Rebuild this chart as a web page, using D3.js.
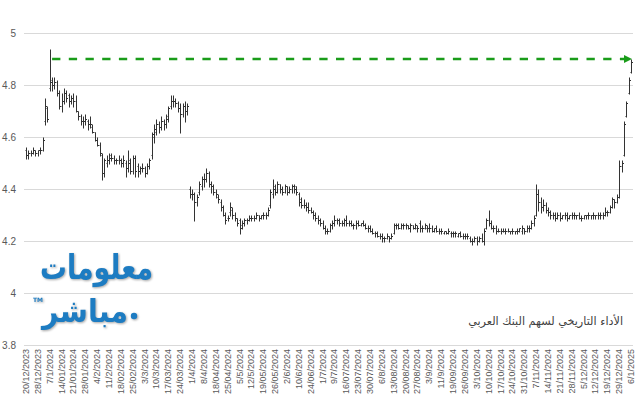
<!DOCTYPE html>
<html lang="ar">
<head>
<meta charset="UTF-8">
<title>Arab Bank share price</title>
<style>
body { margin: 0; background: #fff; }
.grid line { stroke: #d9d9d9; stroke-width: 1px; }
.ytick { font: 10px "Liberation Sans", sans-serif; fill: #595959; }
.xtick { font: 9px "Liberation Sans", sans-serif; fill: #595959; }
.ohlc { stroke: #333; stroke-width: 1px; fill: none; }
</style>
</head>
<body>
<script src="https://cdnjs.cloudflare.com/ajax/libs/d3/7.8.5/d3.min.js"></script>
<script>
// tick labels, one every 5 trading days
var tickLabels = ["20/12/2023","28/12/2023","7/1/2024","14/01/2024","21/01/2024","28/01/2024","4/2/2024",
  "11/2/2024","18/02/2024","25/02/2024","3/3/2024","10/3/2024","17/03/2024","24/03/2024","1/4/2024",
  "8/4/2024","18/04/2024","25/04/2024","5/5/2024","12/5/2024","19/05/2024","26/05/2024","2/6/2024",
  "10/6/2024","24/06/2024","1/7/2024","9/7/2024","16/07/2024","23/07/2024","30/07/2024","6/8/2024",
  "13/08/2024","20/08/2024","27/08/2024","3/9/2024","11/9/2024","19/09/2024","26/09/2024","3/10/2024",
  "10/10/2024","17/10/2024","24/10/2024","31/10/2024","7/11/2024","14/11/2024","21/11/2024",
  "28/11/2024","5/12/2024","12/12/2024","19/12/2024","29/12/2024","6/1/2025"];

var high = [
4.56,4.55,4.55,4.56,4.55,4.55,4.56,4.60,4.75,4.72, 4.94,4.83,4.83,4.82,4.78,4.77,4.79,4.78,4.77,4.76,
4.77,4.76,4.70,4.69,4.68,4.69,4.67,4.68,4.65,4.62, 4.60,4.58,4.54,4.52,4.53,4.54,4.54,4.53,4.52,4.53,
4.52,4.53,4.51,4.55,4.52,4.53,4.53,4.50,4.49,4.50, 4.49,4.50,4.52,4.62,4.65,4.67,4.66,4.68,4.67,4.69,
4.72,4.76,4.76,4.75,4.74,4.73,4.73,4.74,4.73,4.41, 4.40,4.39,4.38,4.43,4.45,4.46,4.48,4.47,4.43,4.42,
4.40,4.38,4.36,4.34,4.31,4.30,4.35,4.33,4.31,4.29, 4.29,4.28,4.29,4.29,4.30,4.30,4.30,4.31,4.30,4.30,
4.31,4.31,4.33,4.40,4.44,4.42,4.43,4.42,4.41,4.42, 4.41,4.41,4.42,4.42,4.41,4.39,4.37,4.36,4.35,4.35,
4.33,4.32,4.31,4.30,4.29,4.28,4.26,4.25,4.27,4.28, 4.30,4.29,4.29,4.28,4.29,4.30,4.28,4.28,4.27,4.28,
4.28,4.27,4.28,4.27,4.26,4.26,4.25,4.24,4.24,4.23, 4.23,4.22,4.23,4.22,4.23,4.27,4.27,4.27,4.27,4.27,
4.27,4.26,4.27,4.26,4.27,4.26,4.28,4.26,4.27,4.26, 4.27,4.26,4.25,4.26,4.25,4.25,4.24,4.24,4.25,4.24,
4.24,4.24,4.23,4.24,4.23,4.23,4.23,4.22,4.21,4.22, 4.22,4.22,4.23,4.25,4.29,4.32,4.28,4.26,4.26,4.25,
4.25,4.25,4.25,4.25,4.24,4.25,4.24,4.25,4.25,4.26, 4.25,4.26,4.26,4.28,4.30,4.42,4.40,4.37,4.36,4.35,
4.33,4.32,4.31,4.31,4.31,4.31,4.30,4.31,4.31,4.30, 4.31,4.31,4.30,4.31,4.30,4.30,4.30,4.31,4.30,4.31,
4.30,4.31,4.31,4.31,4.33,4.32,4.34,4.37,4.36,4.38, 4.51,4.51,4.66,4.74,4.83,4.90];

var low = [
4.52,4.52,4.53,4.54,4.53,4.53,4.54,4.55,4.65,4.66, 4.78,4.78,4.79,4.76,4.71,4.70,4.73,4.74,4.72,4.73,
4.72,4.70,4.67,4.65,4.64,4.65,4.63,4.64,4.62,4.59, 4.57,4.53,4.44,4.45,4.49,4.50,4.51,4.50,4.50,4.50,
4.49,4.49,4.45,4.47,4.46,4.46,4.45,4.45,4.46,4.47, 4.45,4.46,4.48,4.52,4.58,4.61,4.62,4.63,4.63,4.64,
4.66,4.71,4.72,4.72,4.70,4.62,4.68,4.66,4.69,4.37, 4.36,4.28,4.34,4.38,4.40,4.41,4.43,4.41,4.39,4.38,
4.37,4.35,4.32,4.30,4.27,4.28,4.30,4.29,4.28,4.26, 4.23,4.25,4.26,4.27,4.28,4.28,4.28,4.29,4.28,4.29,
4.29,4.29,4.30,4.33,4.37,4.38,4.39,4.39,4.38,4.39, 4.38,4.39,4.39,4.39,4.38,4.34,4.33,4.33,4.32,4.31,
4.31,4.29,4.28,4.27,4.26,4.25,4.23,4.23,4.24,4.25, 4.26,4.27,4.26,4.26,4.26,4.26,4.26,4.26,4.25,4.25,
4.26,4.26,4.26,4.25,4.24,4.24,4.23,4.22,4.22,4.21, 4.20,4.20,4.21,4.20,4.21,4.23,4.25,4.25,4.25,4.25,
4.25,4.25,4.24,4.25,4.25,4.24,4.24,4.24,4.25,4.24, 4.24,4.24,4.24,4.24,4.23,4.23,4.23,4.23,4.23,4.22,
4.22,4.22,4.22,4.22,4.21,4.21,4.21,4.20,4.19,4.20, 4.19,4.20,4.20,4.19,4.25,4.26,4.25,4.24,4.23,4.24,
4.23,4.24,4.23,4.24,4.23,4.23,4.23,4.23,4.24,4.23, 4.23,4.24,4.24,4.25,4.26,4.30,4.32,4.31,4.32,4.31,
4.30,4.29,4.29,4.28,4.29,4.28,4.29,4.29,4.28,4.29, 4.29,4.29,4.29,4.29,4.28,4.29,4.29,4.29,4.29,4.29,
4.29,4.29,4.29,4.29,4.30,4.30,4.31,4.33,4.33,4.35, 4.37,4.47,4.53,4.68,4.77,4.85];

var open = [
4.55,4.53,4.54,4.54,4.55,4.54,4.55,4.55,4.66,4.71, 4.79,4.82,4.80,4.81,4.77,4.72,4.74,4.77,4.76,4.74,
4.75,4.74,4.70,4.68,4.66,4.66,4.66,4.65,4.64,4.62, 4.59,4.57,4.53,4.46,4.50,4.51,4.53,4.52,4.51,4.51,
4.51,4.50,4.50,4.48,4.51,4.47,4.52,4.49,4.47,4.48, 4.48,4.46,4.49,4.53,4.60,4.62,4.65,4.64,4.66,4.65,
4.68,4.72,4.74,4.74,4.73,4.71,4.69,4.72,4.70,4.40, 4.38,4.38,4.35,4.39,4.41,4.44,4.44,4.46,4.42,4.41,
4.39,4.37,4.35,4.33,4.30,4.29,4.31,4.32,4.30,4.29, 4.28,4.26,4.27,4.28,4.28,4.29,4.29,4.29,4.30,4.29,
4.30,4.30,4.30,4.34,4.38,4.41,4.39,4.42,4.40,4.39, 4.41,4.39,4.40,4.41,4.41,4.38,4.36,4.34,4.34,4.33,
4.32,4.31,4.30,4.29,4.28,4.27,4.25,4.24,4.24,4.26, 4.27,4.28,4.28,4.27,4.27,4.28,4.27,4.27,4.26,4.26,
4.27,4.26,4.27,4.26,4.25,4.25,4.24,4.23,4.23,4.22, 4.22,4.21,4.21,4.22,4.21,4.23,4.26,4.26,4.25,4.26,
4.26,4.26,4.25,4.26,4.25,4.25,4.27,4.25,4.25,4.25, 4.25,4.25,4.24,4.25,4.24,4.24,4.23,4.24,4.23,4.23,
4.23,4.23,4.22,4.23,4.22,4.22,4.22,4.21,4.20,4.20, 4.21,4.20,4.21,4.20,4.25,4.28,4.27,4.25,4.25,4.24,
4.24,4.24,4.24,4.24,4.24,4.24,4.24,4.24,4.24,4.24, 4.25,4.24,4.25,4.25,4.27,4.30,4.38,4.35,4.33,4.34,
4.32,4.31,4.30,4.30,4.29,4.30,4.29,4.30,4.30,4.29, 4.30,4.30,4.30,4.30,4.29,4.29,4.30,4.30,4.30,4.30,
4.30,4.30,4.30,4.30,4.30,4.31,4.31,4.33,4.36,4.35, 4.37,4.49,4.53,4.68,4.77,4.85];

var close = [
4.53,4.54,4.54,4.55,4.54,4.55,4.55,4.59,4.72,4.67, 4.81,4.80,4.81,4.77,4.72,4.74,4.77,4.75,4.74,4.75,
4.74,4.70,4.68,4.66,4.66,4.67,4.65,4.65,4.62,4.59, 4.57,4.54,4.46,4.51,4.51,4.52,4.52,4.51,4.51,4.51,
4.50,4.51,4.48,4.50,4.47,4.52,4.47,4.47,4.48,4.48, 4.46,4.49,4.51,4.61,4.63,4.65,4.64,4.66,4.65,4.67,
4.71,4.74,4.74,4.73,4.71,4.69,4.72,4.70,4.72,4.38, 4.38,4.35,4.37,4.42,4.44,4.44,4.46,4.42,4.41,4.39,
4.38,4.36,4.33,4.30,4.28,4.29,4.33,4.30,4.29,4.27, 4.25,4.27,4.28,4.28,4.29,4.29,4.29,4.30,4.29,4.30,
4.30,4.30,4.32,4.39,4.40,4.39,4.42,4.40,4.39,4.41, 4.39,4.40,4.41,4.40,4.39,4.35,4.34,4.34,4.33,4.32,
4.31,4.30,4.29,4.28,4.27,4.25,4.24,4.24,4.26,4.27, 4.28,4.28,4.27,4.27,4.28,4.27,4.27,4.26,4.26,4.27,
4.26,4.27,4.26,4.25,4.25,4.24,4.23,4.23,4.22,4.22, 4.21,4.21,4.22,4.21,4.22,4.26,4.26,4.25,4.26,4.26,
4.26,4.25,4.26,4.25,4.26,4.25,4.25,4.25,4.26,4.25, 4.25,4.24,4.25,4.24,4.24,4.24,4.24,4.23,4.24,4.23,
4.23,4.23,4.23,4.22,4.22,4.22,4.22,4.20,4.20,4.21, 4.20,4.21,4.20,4.24,4.28,4.27,4.25,4.25,4.24,4.24,
4.24,4.24,4.24,4.24,4.24,4.24,4.24,4.24,4.25,4.25, 4.24,4.25,4.25,4.27,4.29,4.38,4.35,4.33,4.34,4.32,
4.31,4.30,4.30,4.29,4.30,4.29,4.30,4.30,4.29,4.30, 4.30,4.30,4.30,4.29,4.29,4.30,4.30,4.30,4.30,4.30,
4.30,4.30,4.30,4.30,4.31,4.31,4.33,4.36,4.35,4.37, 4.49,4.50,4.65,4.73,4.82,4.89];

var yTicks = [3.8, 4, 4.2, 4.4, 4.6, 4.8, 5];
var arrowFrom = 11, arrowTo = 255, arrowLevel = 4.90;
var title = "الأداء التاريخي لسهم البنك العربي";

var width = 640, height = 400;
var svg = d3.select("body").append("svg")
  .attr("width", width).attr("height", height);

var idx = d3.range(high.length);
var x = d3.scalePoint().domain(idx).range([26, 631]);
var y = d3.scaleLinear().domain([3.8, 5]).range([345, 33]);
var px = i => Math.round(x(i)) + 0.5;
var py = v => Math.round(y(v)) + 0.5;

// gridlines
svg.append("g").attr("class", "grid")
  .selectAll("line").data(yTicks).join("line")
  .attr("x1", 24).attr("x2", 633)
  .attr("y1", d => py(d)).attr("y2", d => py(d));

// y labels
svg.append("g").selectAll("text").data(yTicks).join("text")
  .attr("class", "ytick")
  .attr("x", 16).attr("y", d => y(d)).attr("dy", "0.35em")
  .attr("text-anchor", "end")
  .text(d => d3.format("~g")(d));

// x labels, every 5th bar
svg.append("g").selectAll("text").data(tickLabels).join("text")
  .attr("class", "xtick")
  .attr("text-anchor", "end")
  .attr("transform", (d, k) => "translate(" + (x(k * 5) + 3) + ",349) rotate(-90)")
  .text(d => d);

// OHLC bars
var bars = svg.append("g").attr("class", "ohlc");
bars.selectAll("path").data(idx).join("path")
  .attr("d", i => {
    var cx = px(i);
    return "M" + cx + "," + py(high[i]) + "V" + (py(low[i]) + 1) +
      "M" + (cx - 1) + "," + py(open[i]) + "H" + cx +
      "M" + cx + "," + py(close[i]) + "H" + (cx + 1.5);
  });

// dashed green arrow
svg.append("defs").append("marker")
  .attr("id", "ah").attr("viewBox", "0 0 10 10")
  .attr("refX", 10).attr("refY", 5)
  .attr("markerWidth", 3.2).attr("markerHeight", 3.2)
  .attr("markerUnits", "strokeWidth").attr("orient", "auto")
  .append("path").attr("d", "M0,0L10,5L0,10Z").attr("fill", "#1a9c1a");
svg.append("line")
  .attr("x1", x(arrowFrom)).attr("x2", x(arrowTo) + 1)
  .attr("y1", y(arrowLevel)).attr("y2", y(arrowLevel))
  .attr("stroke", "#1a9c1a").attr("stroke-width", 2.6)
  .attr("stroke-dasharray", "8.3,8.4")
  .attr("marker-end", "url(#ah)");

// title: size the font so it spans about 155px
var t = svg.append("text")
  .attr("x", 623).attr("y", 325)
  .attr("text-anchor", "end")
  .style("font-family", "'DejaVu Sans', sans-serif")
  .style("font-size", "13px")
  .style("fill", "#404040")
  .text(title);
var tw = t.node().getComputedTextLength();
if (tw > 0) t.style("font-size", (13 * 155 / tw).toFixed(2) + "px");

// logo
var logo = svg.append("g")
  .style("font-family", "'DejaVu Sans', sans-serif")
  .style("font-weight", "bold")
  .style("fill", "#1d7cc2")
  .style("filter", "drop-shadow(1px 1px 1px rgba(0,0,0,0.35))");
logo.append("text")
  .attr("x", 40).attr("y", 279)
  .attr("textLength", 113).attr("lengthAdjust", "spacingAndGlyphs")
  .style("font-size", "34px")
  .text("معلومات");
logo.append("text")
  .attr("x", 42).attr("y", 322)
  .attr("textLength", 86).attr("lengthAdjust", "spacingAndGlyphs")
  .style("font-size", "32px")
  .text("مباشر");
logo.append("circle").attr("cx", 134).attr("cy", 316).attr("r", 3.2);
logo.append("text")
  .attr("x", 33).attr("y", 302)
  .style("font-size", "6px")
  .style("filter", "none")
  .text("TM");
</script>
</body>
</html>
